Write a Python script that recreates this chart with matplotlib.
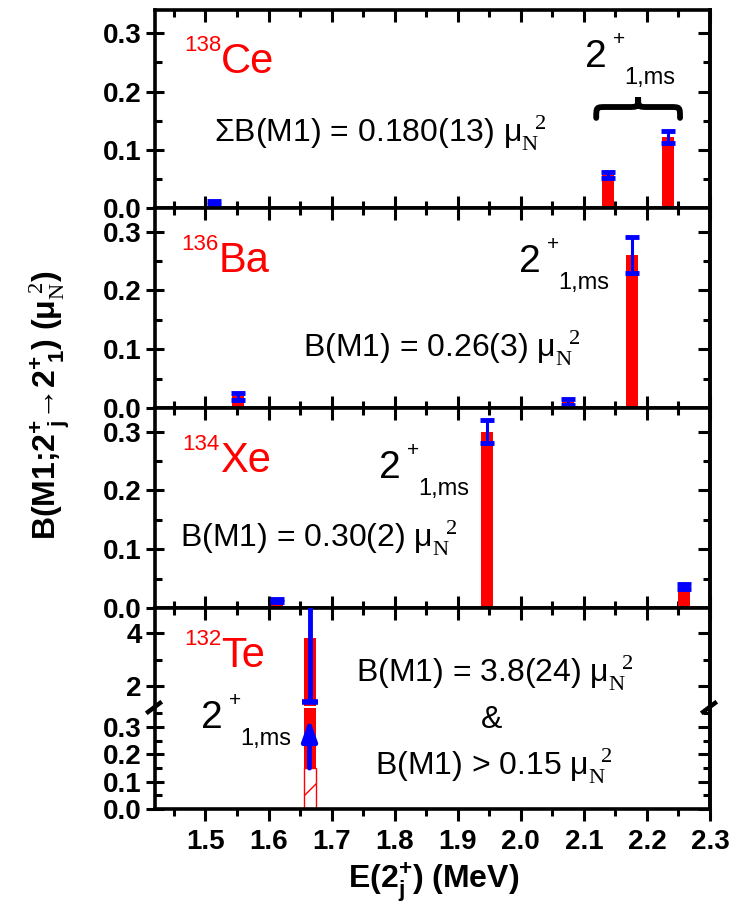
import matplotlib.pyplot as plt
from matplotlib.path import Path
from matplotlib.patches import PathPatch
from matplotlib.ticker import MultipleLocator

plt.rcParams['font.family'] = ['Liberation Sans', 'DejaVu Sans']
plt.rcParams['mathtext.fontset'] = 'custom'
plt.rcParams['mathtext.rm'] = 'Liberation Serif'
plt.rcParams['mathtext.bf'] = 'Liberation Sans:bold'
plt.rcParams['mathtext.it'] = 'Liberation Sans:italic'
plt.rcParams['mathtext.sf'] = 'Liberation Sans'
plt.rcParams['hatch.linewidth'] = 1.0
plt.rcParams['hatch.color'] = 'red'

# level energies (MeV), B(M1) values and errors (mu_N^2)
ce_e = [1.513, 2.138, 2.233]
ce_b = [0.009, 0.056, 0.122]
ce_err = [0.003, 0.005, 0.010]

ba_e = [1.551, 2.075, 2.176]
ba_b = [0.020, 0.010, 0.260]
ba_err = [0.006, 0.005, 0.030]

xe_e = [1.613, 1.947, 2.258]
xe_b = [0.013, 0.300, 0.037]
xe_err = [0.003, 0.020, 0.004]

te_e = [1.665]
te_b = [3.8]
te_err = [2.4]
te_limit = [0.15]   # lower limit B(M1) > 0.15

yticks = [0.0, 0.1, 0.2, 0.3]
ytick_labels = ['0.0', '0.1', '0.2', '0.3']
te_up_ticks = [2, 4]
te_up_labels = ['2', '4']
xticks = [1.5, 1.6, 1.7, 1.8, 1.9, 2.0, 2.1, 2.2, 2.3]
xtick_labels = ['1.5', '1.6', '1.7', '1.8', '1.9', '2.0', '2.1', '2.2', '2.3']

BAR_W = 0.019
W, H = 738, 921


def box(top, bot):
    return [155 / W, 1 - bot / H, 555 / W, (bot - top) / H]


def style(ax, ylim, ticks, labels, minor, top=True, bottom=True, bottom_out=False):
    ax.set_xlim(1.42, 2.3)
    ax.set_ylim(*ylim)
    ax.set_xticks(xticks)
    ax.xaxis.set_minor_locator(MultipleLocator(0.05))
    ax.set_yticks(ticks)
    ax.set_yticklabels(labels, fontsize=20, fontweight='bold')
    ax.yaxis.set_minor_locator(MultipleLocator(minor))
    for s in ax.spines.values():
        s.set_linewidth(2.6)
    ax.spines['top'].set_visible(top)
    ax.spines['bottom'].set_visible(bottom)
    ax.tick_params(axis='y', which='major', direction='inout', length=13, width=2.2,
                   right=False, pad=3)
    ax.tick_params(axis='y', which='minor', direction='in', length=5, width=2.2, right=False)
    xdir = 'out' if bottom_out else 'in'
    ax.tick_params(axis='x', which='major', direction=xdir, length=8.5, width=2.2,
                   top=top, bottom=bottom, labelbottom=False)
    ax.tick_params(axis='x', which='minor', direction=xdir, length=5, width=2.2,
                   top=top, bottom=bottom)
    # right-hand ticks point inward only
    sec = ax.secondary_yaxis('right')
    sec.patch.set_visible(False)
    sec.set_yticks(ticks)
    sec.yaxis.set_minor_locator(MultipleLocator(minor))
    sec.tick_params(which='major', direction='in', length=8.5, width=2.2, labelright=False)
    sec.tick_params(which='minor', direction='in', length=5, width=2.2)
    sec.spines['right'].set_linewidth(2.6)


def levels(ax, e, b, err, capsize=5, elw=2.2):
    ax.bar(e, b, width=BAR_W, color='red', zorder=2)
    ax.errorbar(e, b, yerr=err, fmt='none', ecolor='blue', elinewidth=elw,
                capsize=capsize, capthick=3.5, zorder=3)


def nucleus(ax, x, y, mass, sym):
    ax.text(x, y, sym, color='red', fontsize=30, transform=ax.transAxes,
            ha='left', va='baseline')
    ax.annotate(mass, (x, y), xycoords='axes fraction', xytext=(0, 16),
                textcoords='offset points', fontsize=16, color='red',
                ha='right', va='baseline')


def state(ax, x, y):
    ax.text(x, y, '2', fontsize=28, transform=ax.transAxes, ha='left', va='baseline')
    ax.annotate('+', (x, y), xycoords='axes fraction', xytext=(20, 20),
                textcoords='offset points', fontsize=15, ha='left', va='center')
    ax.annotate('1,ms', (x, y), xycoords='axes fraction', xytext=(28, -12),
                textcoords='offset points', fontsize=17, ha='left', va='baseline')


def bm1(ax, x, y, s, ha='left'):
    ax.text(x, y, s + ' μ' + r'$_{\mathrm{N}}^{\ \ \mathrm{2}}$', fontsize=23,
            transform=ax.transAxes, ha=ha, va='baseline')


def brace(ax, x0, x1, yb, ym, yt):
    xm = (x0 + x1) / 2
    r = (x1 - x0) * 0.12
    verts = [(x0, yb), (x0, ym), (x0, ym), (x0 + r, ym),
             (xm - r, ym),
             (xm, ym), (xm, ym), (xm, yt),
             (xm, ym), (xm, ym), (xm + r, ym),
             (x1 - r, ym),
             (x1, ym), (x1, ym), (x1, yb)]
    codes = [Path.MOVETO] + [Path.CURVE4] * 3 + [Path.LINETO] + [Path.CURVE4] * 6 + \
            [Path.LINETO] + [Path.CURVE4] * 3
    ax.add_patch(PathPatch(Path(verts, codes), transform=ax.transAxes, fill=False,
                           lw=4.2, ec='black', capstyle='round', clip_on=False))


fig = plt.figure(figsize=(W / 100, H / 100), dpi=100)

# 138Ce
ax_ce = fig.add_axes(box(10, 208))
levels(ax_ce, ce_e, ce_b, ce_err)
style(ax_ce, (0, 0.34), yticks, ytick_labels, 0.05)
nucleus(ax_ce, 0.119, 0.68, '138', 'Ce')
state(ax_ce, 0.775, 0.712)
brace(ax_ce, 0.795, 0.946, 0.455, 0.51, 0.56)
bm1(ax_ce, 0.106, 0.33, 'ΣB(M1) = 0.180(13)')

# 136Ba
ax_ba = fig.add_axes(box(208, 408))
levels(ax_ba, ba_e, ba_b, ba_err)
style(ax_ba, (0, 0.34), yticks, ytick_labels, 0.05)
nucleus(ax_ba, 0.114, 0.68, '136', 'Ba')
state(ax_ba, 0.656, 0.68)
bm1(ax_ba, 0.267, 0.255, 'B(M1) = 0.26(3)')

# 134Xe
ax_xe = fig.add_axes(box(408, 608))
levels(ax_xe, xe_e, xe_b, xe_err)
style(ax_xe, (0, 0.34), yticks, ytick_labels, 0.05)
nucleus(ax_xe, 0.117, 0.68, '134', 'Xe')
state(ax_xe, 0.404, 0.65)
bm1(ax_xe, 0.045, 0.30, 'B(M1) = 0.30(2)')

# 132Te, broken y axis
ax_tu = fig.add_axes(box(608, 706))
ax_tl = fig.add_axes(box(708, 809))
for ax in (ax_tu, ax_tl):
    ax.bar(te_e, te_limit, width=BAR_W, color='white', edgecolor='red', hatch='/',
           lw=1.0, zorder=2)
    ax.bar(te_e, [b - l for b, l in zip(te_b, te_limit)], bottom=te_limit,
           width=BAR_W, color='red', zorder=2)
ax_tu.errorbar(te_e, te_b, yerr=te_err, fmt='none', ecolor='blue', elinewidth=3.5,
               capsize=6, capthick=4, zorder=3)
ax_tl.annotate('', xy=(te_e[0], 0.33), xytext=(te_e[0], te_limit[0]),
               arrowprops=dict(arrowstyle='-|>,head_length=0.7,head_width=0.25',
                               color='blue', lw=3.5, shrinkA=0, shrinkB=0,
                               mutation_scale=18, capstyle='round'), zorder=3)
style(ax_tu, (1.25, 4.95), te_up_ticks, te_up_labels, 1, top=True, bottom=False)
style(ax_tl, (0, 0.37), yticks, ytick_labels, 0.05, top=False, bottom=True,
      bottom_out=True)
ax_tl.set_xticklabels(xtick_labels, fontsize=20, fontweight='bold')
ax_tl.tick_params(axis='x', which='major', labelbottom=True, pad=6)

# break marks on the Te axis
for xf in (155, 710):
    fig.add_artist(plt.Line2D([(xf - 7) / W, (xf + 5) / W],
                              [1 - 712 / H, 1 - 703 / H], color='black', lw=3.2))

nucleus(ax_tu, 0.119, 0.40, '132', 'Te')
state(ax_tl, 0.083, 0.80)
bm1(ax_tu, 0.611, 0.24, 'B(M1) = 3.8(24)', ha='center')
ax_tl.text(0.607, 0.80, '&', fontsize=23, transform=ax_tl.transAxes,
           ha='center', va='baseline')
bm1(ax_tl, 0.611, 0.333, 'B(M1) > 0.15', ha='center')

fig.text(50 / W, 1 - 405 / H,
         r'B(M1;2$^{\mathbf{+}}_{\ \mathbf{j}}$→2$^{\mathbf{+}}_{\ \mathbf{1}}$) '
         r'(μ$_{\mathrm{N}}^{\ \mathrm{2}}$)',
         rotation=90, ha='center', va='center', fontsize=23, fontweight='bold')
fig.text(434 / W, 1 - 883 / H, r'E(2$^{\mathbf{+}}_{\mathbf{j}}$) (MeV)',
         ha='center', va='center', fontsize=23, fontweight='bold')

fig.savefig('out.png', dpi=100)
